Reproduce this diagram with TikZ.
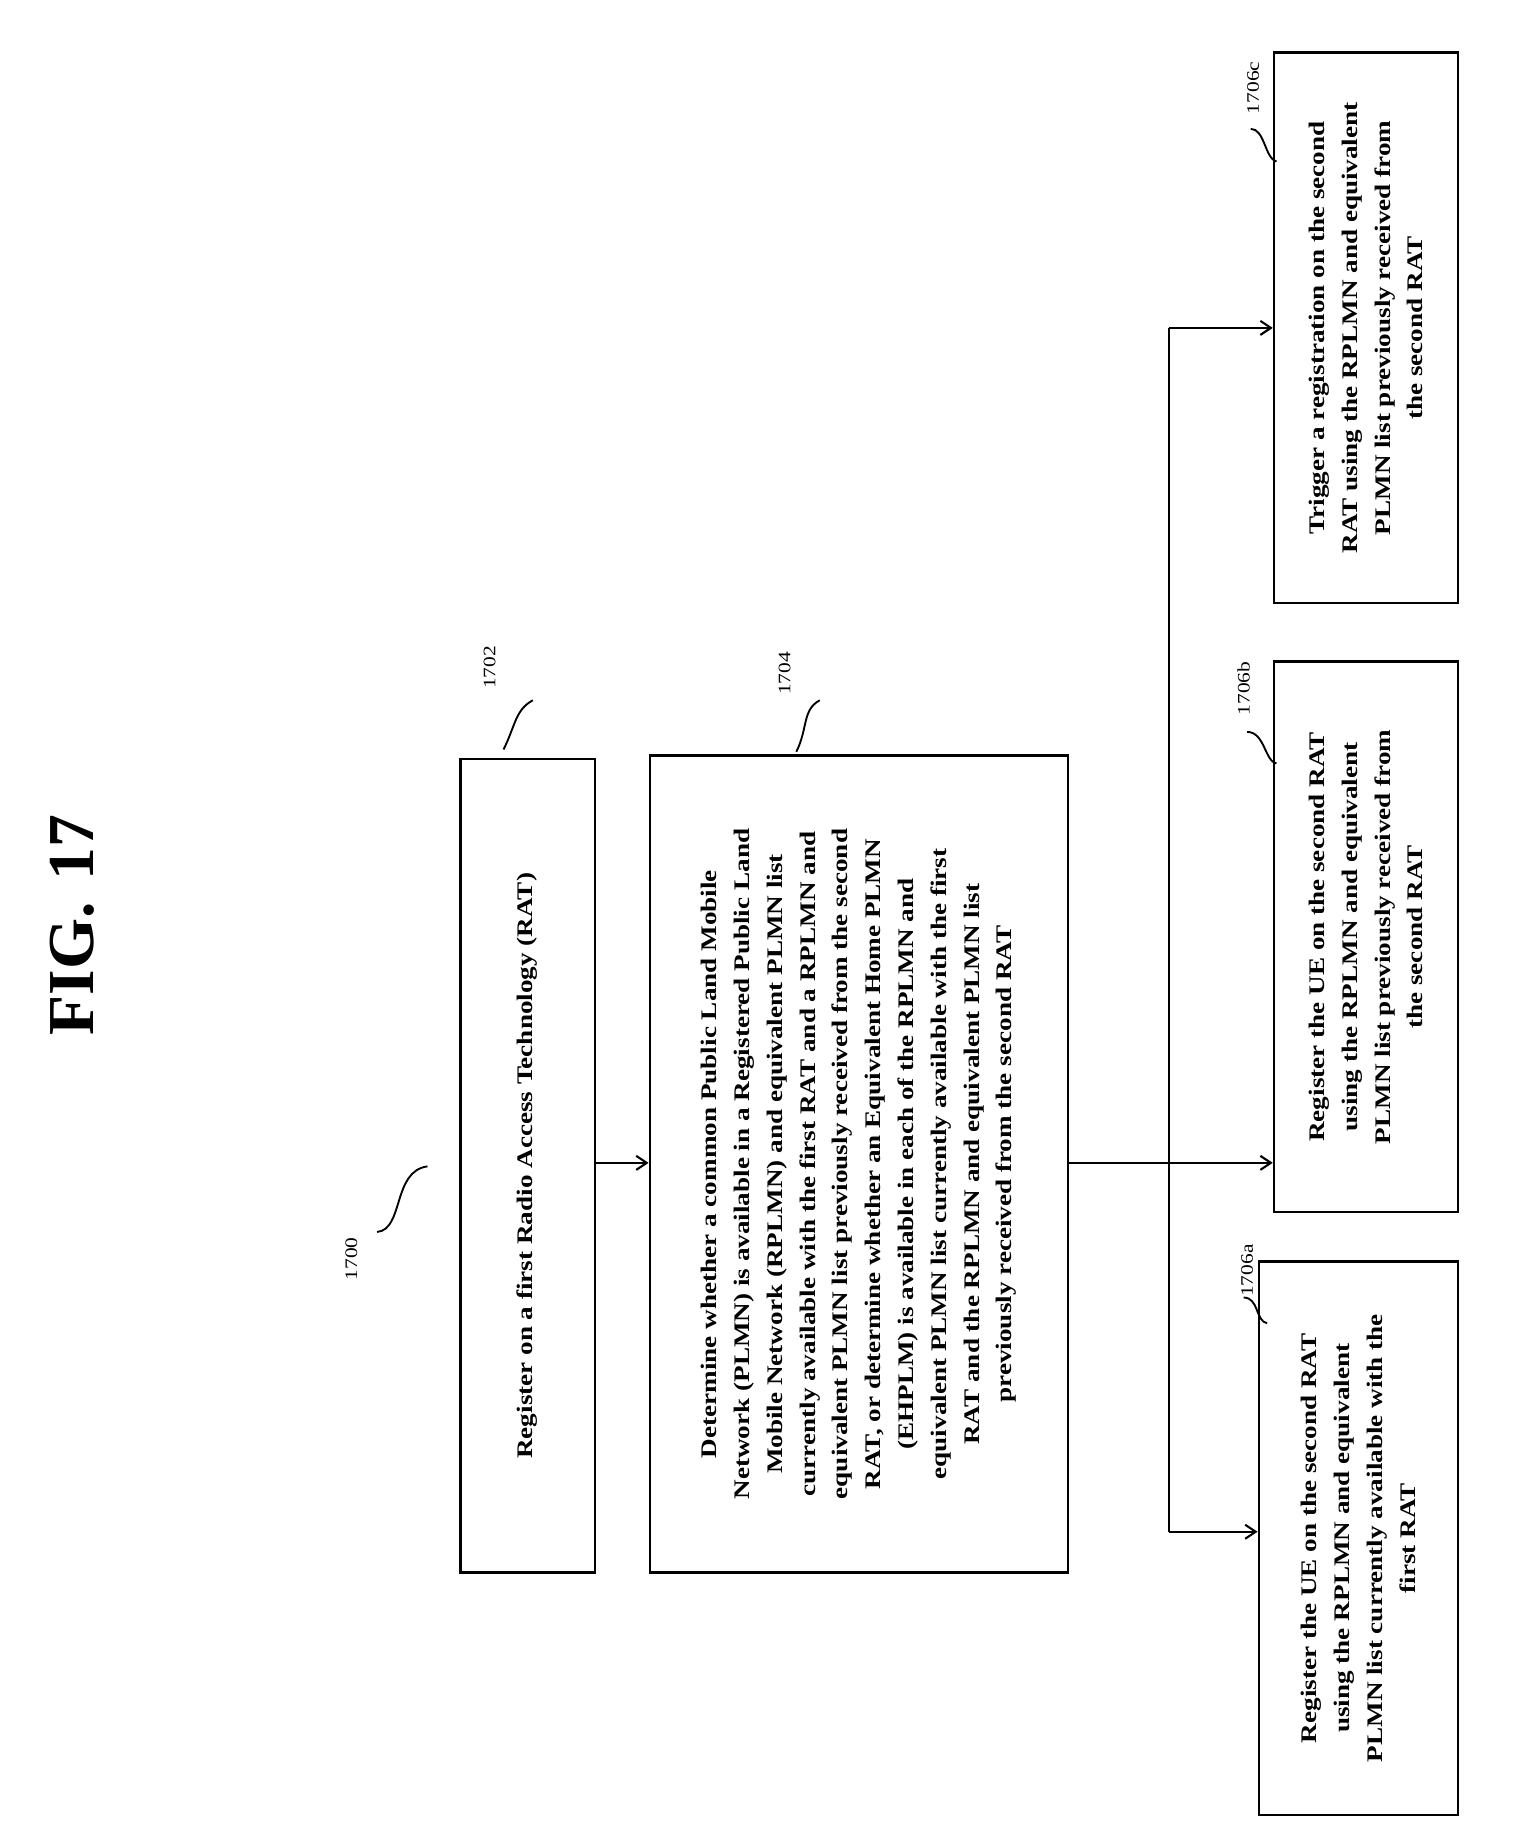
\documentclass[tikz,border=0pt]{standalone}
\usepackage{fontspec}
\setmainfont{Liberation Serif}
\newfontfamily\wide[FakeStretch=1.22]{Liberation Serif}
\usetikzlibrary{arrows.meta}
\begin{document}
\begin{tikzpicture}[x=1pt,y=-1pt,
  box/.style={draw,line width=2.2pt,inner sep=0},
  txt/.style={rotate=90,align=center,font=\wide\bfseries\fontsize{19}{28}\selectfont},
  lab/.style={rotate=90,font=\wide\fontsize{15}{18}\selectfont},
  arr/.style={line width=1.8pt,-{Straight Barb[length=9pt,width=12pt]}},
  ln/.style={line width=1.8pt},
  sq/.style={line width=1.6pt}]
\useasboundingbox (0,0) rectangle (1300,1561);
\node[rotate=90,font=\bfseries\fontsize{56}{60}\selectfont] (fig) at (62,790) {FIG.\,\,17};
% boxes
\node[box,minimum width=115pt,minimum height=695pt] (b1702) at (450.5,995.5) {};
\node[txt] (t1702) at (b1702.center) {Register on a first Radio Access Technology (RAT)};
\node[box,minimum width=357pt,minimum height=698pt] (b1704) at (733.5,994) {};
\node[txt] (t1704) at (b1704.center) {Determine whether a common Public Land Mobile\\
Network (PLMN) is available in a Registered Public Land\\
Mobile Network (RPLMN) and equivalent PLMN list\\
currently available with the first RAT and a RPLMN and\\
equivalent PLMN list previously received from the second\\
RAT, or determine whether an Equivalent Home PLMN\\
(EHPLM) is available in each of the RPLMN and\\
equivalent PLMN list currently available with the first\\
RAT and the RPLMN and equivalent PLMN list\\
previously received from the second RAT};
\node[box,minimum width=170pt,minimum height=473pt] (b6a) at (1160,1313.5) {};
\node[txt] (t6a) at (b6a.center) {Register the UE on the second RAT\\using the RPLMN and equivalent\\PLMN list currently available with the\\first RAT};
\node[box,minimum width=157pt,minimum height=470pt] (b6b) at (1166.5,800) {};
\node[txt] (t6b) at (b6b.center) {Register the UE on the second RAT\\using the RPLMN and equivalent\\PLMN list previously received from\\the second RAT};
\node[box,minimum width=157pt,minimum height=470pt] (b6c) at (1166.5,280) {};
\node[txt] (t6c) at (b6c.center) {Trigger a registration on the second\\RAT using the RPLMN and equivalent\\PLMN list previously received from\\the second RAT};
% connectors
\draw[arr] (b1702.east |- 0,993) -- (b1704.west |- 0,993);
\coordinate (j) at (998,993);
\coordinate (jt) at (998,280);
\coordinate (jb) at (998,1308);
\draw[ln] (b1704.east |- j) -- (j);
\draw[ln] (jt) -- (jb);
\draw[arr] (jt) -- (b6c.west |- jt);
\draw[arr] (j) -- (b6b.west |- j);
\draw[arr] (jb) -- (b6a.west |- jb);
% labels
\node[lab] (l1700) at (300,1075) {1700};
\draw[sq] (322,1052) .. controls (345,1050) and (335,1000) .. (365,996);
\node[lab] (l1702) at (418,570) {1702};
\draw[sq] (430,640) .. controls (440,620) and (440,606) .. (455,598);
\node[lab] (l1704) at (670,575) {1704};
\draw[sq] (680,642) .. controls (690,622) and (685,606) .. (700,598);
\node[lab] (l6a) at (1065,1085) {1706a};
\draw[sq] (1062,1108) .. controls (1075,1108) and (1072,1128) .. (1082,1130);
\node[lab] (l6b) at (1062,588) {1706b};
\draw[sq] (1065,625) .. controls (1080,625) and (1080,650) .. (1090,652);
\node[lab] (l6c) at (1070,75) {1706c};
\draw[sq] (1068,110) .. controls (1080,110) and (1080,135) .. (1090,138);
\end{tikzpicture}
\end{document}
